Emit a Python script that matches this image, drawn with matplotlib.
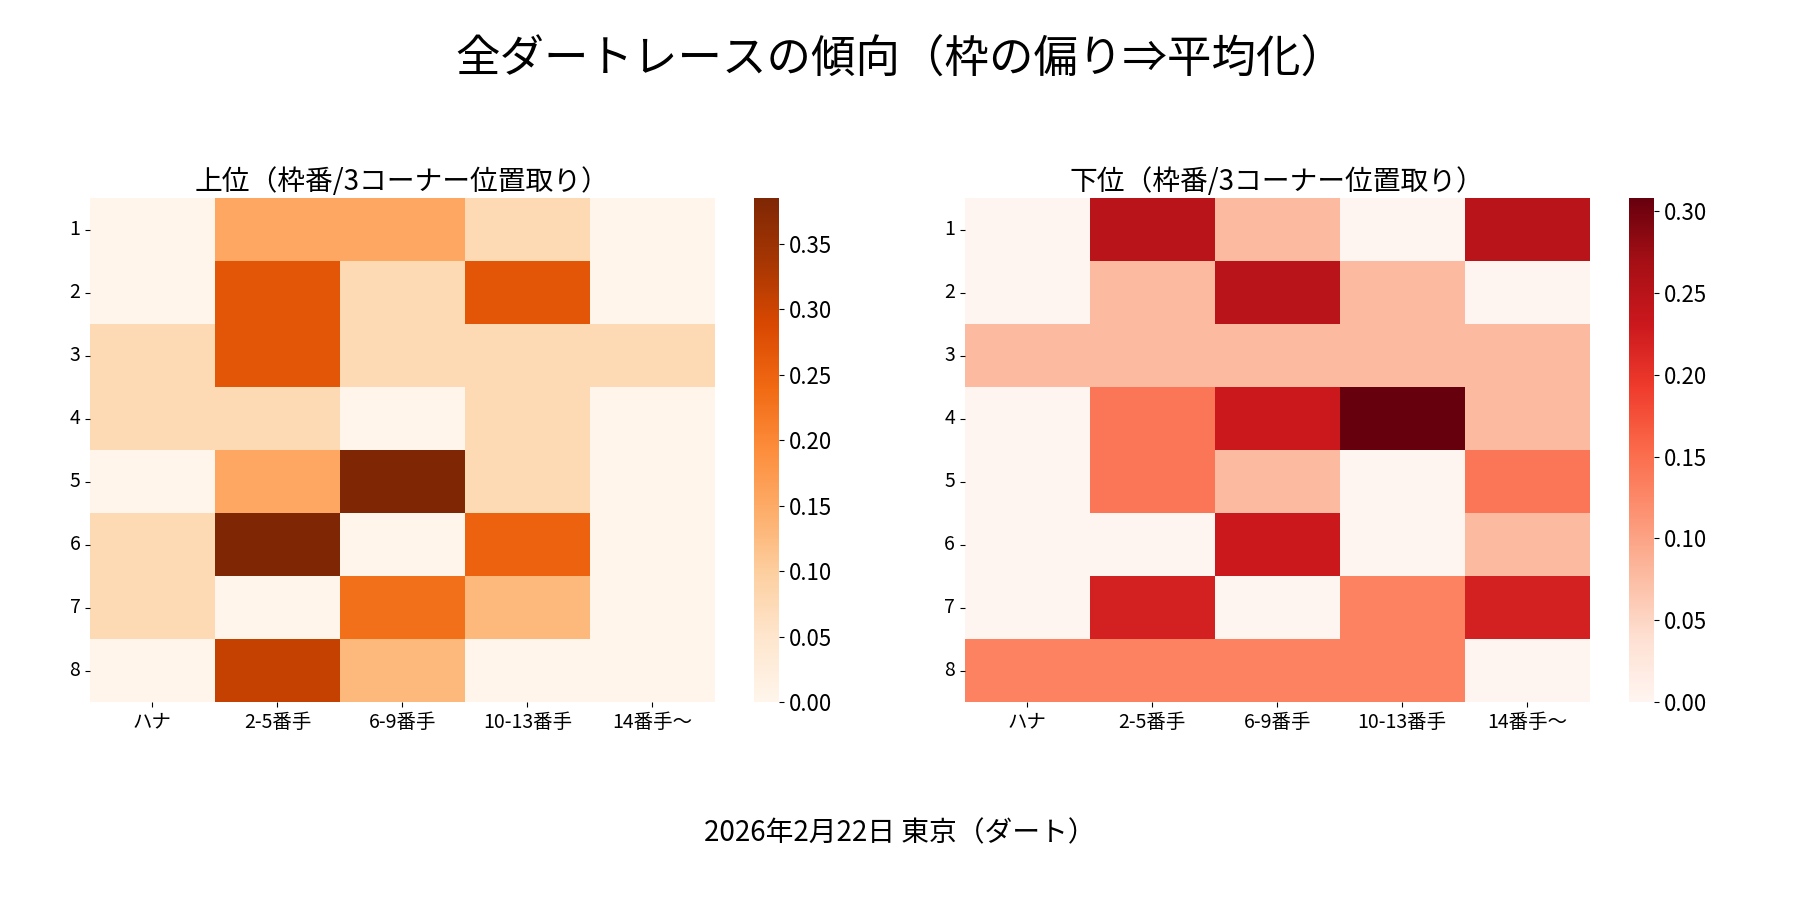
import numpy as np
import matplotlib
matplotlib.use("Agg")
import matplotlib.pyplot as plt
import seaborn as sns

plt.rcParams['font.family'] = ['Noto Sans CJK JP', 'DejaVu Sans']

waku = ['1', '2', '3', '4', '5', '6', '7', '8']
positions = ['ハナ', '2-5番手', '6-9番手', '10-13番手', '14番手〜']

# 上位
upper = np.array([
    [0.000, 0.154, 0.154, 0.077, 0.000],
    [0.000, 0.269, 0.077, 0.269, 0.000],
    [0.077, 0.269, 0.077, 0.077, 0.077],
    [0.077, 0.077, 0.000, 0.077, 0.000],
    [0.000, 0.154, 0.385, 0.077, 0.000],
    [0.077, 0.385, 0.000, 0.250, 0.000],
    [0.077, 0.000, 0.231, 0.130, 0.000],
    [0.000, 0.308, 0.130, 0.000, 0.000],
])
# 下位
lower = np.array([
    [0.000, 0.250, 0.077, 0.000, 0.250],
    [0.000, 0.077, 0.250, 0.077, 0.000],
    [0.077, 0.077, 0.077, 0.077, 0.077],
    [0.000, 0.143, 0.231, 0.308, 0.077],
    [0.000, 0.143, 0.077, 0.000, 0.143],
    [0.000, 0.000, 0.231, 0.000, 0.077],
    [0.000, 0.222, 0.000, 0.130, 0.222],
    [0.130, 0.130, 0.130, 0.130, 0.000],
])

fig, axes = plt.subplots(1, 2, figsize=(18, 9), dpi=100)
sns.heatmap(upper, ax=axes[0], cmap='Oranges', xticklabels=positions, yticklabels=waku)
sns.heatmap(lower, ax=axes[1], cmap='Reds', xticklabels=positions, yticklabels=waku)
axes[0].set_title('上位（枠番/3コーナー位置取り）', fontsize=20)
axes[1].set_title('下位（枠番/3コーナー位置取り）', fontsize=20)
for ax in axes:
    ax.tick_params(labelsize=14)
    ax.set_yticklabels(waku, rotation=0)
    ax.collections[0].colorbar.ax.tick_params(labelsize=16)

fig.suptitle('全ダートレースの傾向（枠の偏り⇒平均化）', fontsize=32, y=0.96)
fig.text(0.5, 0.065, '2026年2月22日 東京（ダート）', ha='center', fontsize=20)
plt.subplots_adjust(left=0.05, right=0.97, top=0.78, bottom=0.22, wspace=0.12)
plt.savefig('out.png')
plt.close()
